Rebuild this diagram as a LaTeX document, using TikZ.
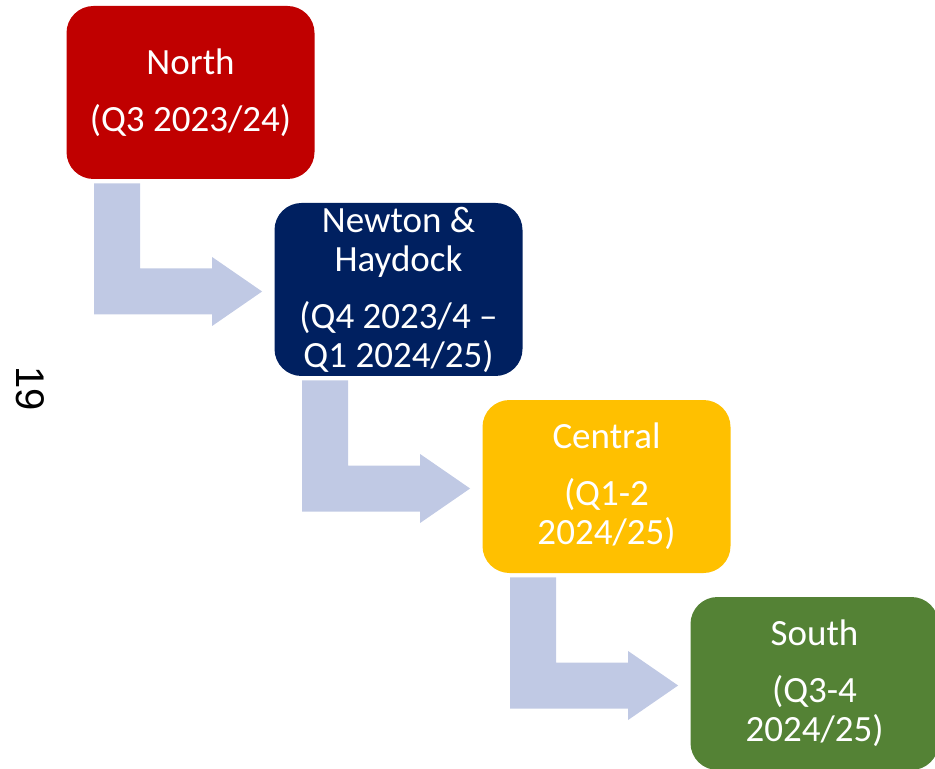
\documentclass[tikz,border=0pt]{standalone}
\usepackage{fontspec}
\setmainfont{Carlito}
\newfontfamily\pagefont{Liberation Sans}
\usetikzlibrary{calc}

\definecolor{phasered}{HTML}{C00000}
\definecolor{phasenavy}{HTML}{002060}
\definecolor{phasegold}{HTML}{FFC000}
\definecolor{phasegreen}{HTML}{548235}
\definecolor{flowblue}{HTML}{C0C9E4}

\tikzset{
  phase/.style={rounded corners=13.5pt, minimum width=124pt, minimum height=86.5pt,
    inner sep=0pt, text=white, align=center,
    font=\fontsize{18.5}{19.5}\selectfont},
  flow/.style={fill=flowblue},
}

\begin{document}
\begin{tikzpicture}[x=0.5pt, y=-0.5pt]
  \useasboundingbox (0,0) rectangle (935,769);
  \clip (0,0) rectangle (935,769);

  % rollout phases
  \node[phase, fill=phasered]   (north)   at (190.5,92.5)  {North\\[9pt](Q3 2023/24)};
  \node[phase, fill=phasenavy]  (newton)  at (398.5,289.5) {Newton \&\\Haydock\\[9pt](Q4 2023/4 --\\Q1 2024/25)};
  \node[phase, fill=phasegold]  (central) at (606.5,486.5) {Central\\[9pt](Q1-2\\2024/25)};
  \node[phase, fill=phasegreen] (south)   at (814.5,683.5) {South\\[9pt](Q3-4\\2024/25)};

  % bent arrows from each phase to the next
  \foreach \a/\b in {north/newton, newton/central, central/south}{
    \fill[flow] let \p1=($(\a.south west)+(28,4)$), \p2=($(\b.west)+(-12,2)$) in
      (\p1) -- (\x1+23pt,\y1) -- (\x1+23pt,\y2+11.5pt) -- (\x2-25pt,\y2+11.5pt)
      -- (\x2-25pt,\y2+17.25pt) -- (\p2) -- (\x2-25pt,\y2-17.25pt)
      -- (\x2-25pt,\y2-11.5pt) -- (\x1,\y2-11.5pt) -- cycle;
  }

  % page number
  \node[rotate=-90, font=\pagefont\fontsize{20}{24}\selectfont] (page) at (30,389) {19};
\end{tikzpicture}
\end{document}
